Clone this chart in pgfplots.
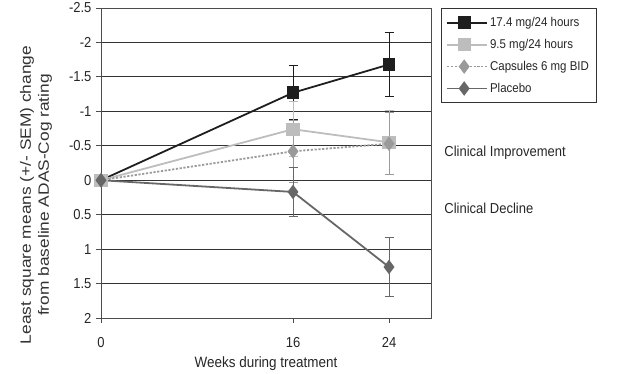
\documentclass[border=0pt]{standalone}
\usepackage{fontspec}
\setmainfont[FakeStretch=0.9]{Liberation Sans}
\newfontfamily\ylfont[FakeStretch=1.16]{Liberation Sans}
\usepackage{pgfplots}
\usepackage{pgfplotstable}
\pgfplotsset{compat=1.18}
\definecolor{sA}{HTML}{1E1E1E}
\definecolor{sB}{HTML}{BDBDBD}
\definecolor{sC}{HTML}{9A9A9A}
\definecolor{sD}{HTML}{676767}
\pgfplotstableread{
x y e
0 0 0
16 -1.27 0.39
24 -1.68 0.47
}\tabA
\pgfplotstableread{
x y e
0 0 0
16 -0.74 0.40
24 -0.55 0.46
}\tabB
\pgfplotstableread{
x y e
0 0 0
16 -0.42 0.45
24 -0.53 0.45
}\tabC
\pgfplotstableread{
x y e
0 0 0
16 0.17 0.36
24 1.26 0.43
}\tabD
\begin{document}
\begin{tikzpicture}
\useasboundingbox (0,0) rectangle (624bp,374bp);
\begin{axis}[
  at={(101bp,56bp)}, anchor=south west,
  width=330bp, height=310bp, scale only axis,
  xmin=0, xmax=27.5, ymin=-2.5, ymax=2, y dir=reverse,
  xtick={0,16,24}, xticklabels={0,16,24},
  ytick={-2.5,-2,-1.5,-1,-0.5,0,0.5,1,1.5,2},
  yticklabels={-2.5,-2,-1.5,-1,-0.5,0,0.5,1,1.5,2},
  xtick pos=lower, ytick pos=left,
  tick align=outside, major tick length=5bp,
  ymajorgrids, grid style={black!80, line width=0.8pt},
  axis line style={black!70, line width=0.9pt},
  tick style={black!70, line width=0.9pt},
  tick label style={font=\fontsize{14.5}{16}\selectfont, text=black!85},
  xticklabel style={anchor=base, yshift=-24bp},
  yticklabel style={xshift=-1bp},
  clip=false,
  xlabel={Weeks during treatment},
  xlabel style={font=\fontsize{15}{17}\selectfont, text=black!85, at={(axis description cs:0.5,0)}, anchor=base, yshift=-49bp},
  ylabel={Least square means (+/- SEM) change\\from baseline ADAS-Cog rating},
  ylabel style={font=\ylfont\fontsize{15}{18}\selectfont, text=black!80, align=center, at={(axis description cs:-0.197,0.397)}, anchor=center, rotate=0},
  legend style={at={(axis description cs:1.03,1)}, anchor=north west, draw=black!80, line width=0.8pt,
     font=\fontsize{12.8}{14}\selectfont, text=black!85, row sep=7.2bp, inner xsep=5bp, inner ysep=7bp, legend cell align=left},
  legend image code/.code={\draw[mark repeat=2,mark phase=2] plot coordinates {(0bp,0bp)(17bp,0bp)(34bp,0bp)};\path (0bp,0bp) -- (40bp,0bp);},
  every axis plot/.append style={line width=1.8pt},
  error bars/error bar style={line width=1pt},
  error bars/error mark options={rotate=90, mark size=4.5bp, line width=1pt},
]
\addplot[sA, mark=square*, mark size=5.5bp, mark options={solid},
  error bars/.cd, y dir=both, y explicit] table[x=x, y=y, y error=e] {\tabA};
\addlegendentry{17.4 mg/24 hours}
\addplot[sB, mark=square*, mark size=5.8bp, mark options={solid},
  error bars/.cd, y dir=both, y explicit] table[x=x, y=y, y error=e] {\tabB};
\addlegendentry{9.5 mg/24 hours}
\addplot[sC, dash pattern=on 2.2pt off 1.6pt, mark=diamond*, mark size=5.8bp, mark options={solid},
  error bars/.cd, y dir=both, y explicit, error bar style={solid}] table[x=x, y=y, y error=e] {\tabC};
\addlegendentry{Capsules 6 mg BID}
\addplot[sD, mark=diamond*, mark size=5.8bp, mark options={solid},
  error bars/.cd, y dir=both, y explicit] table[x=x, y=y, y error=e] {\tabD};
\addlegendentry{Placebo}
\node[anchor=west, font=\fontsize{14.5}{16}\selectfont, text=black!85] at (axis description cs:1.03,0.532) {Clinical Improvement};
\node[anchor=west, font=\fontsize{14.5}{16}\selectfont, text=black!85] at (axis description cs:1.03,0.355) {Clinical Decline};
\end{axis}
\end{tikzpicture}
\end{document}
